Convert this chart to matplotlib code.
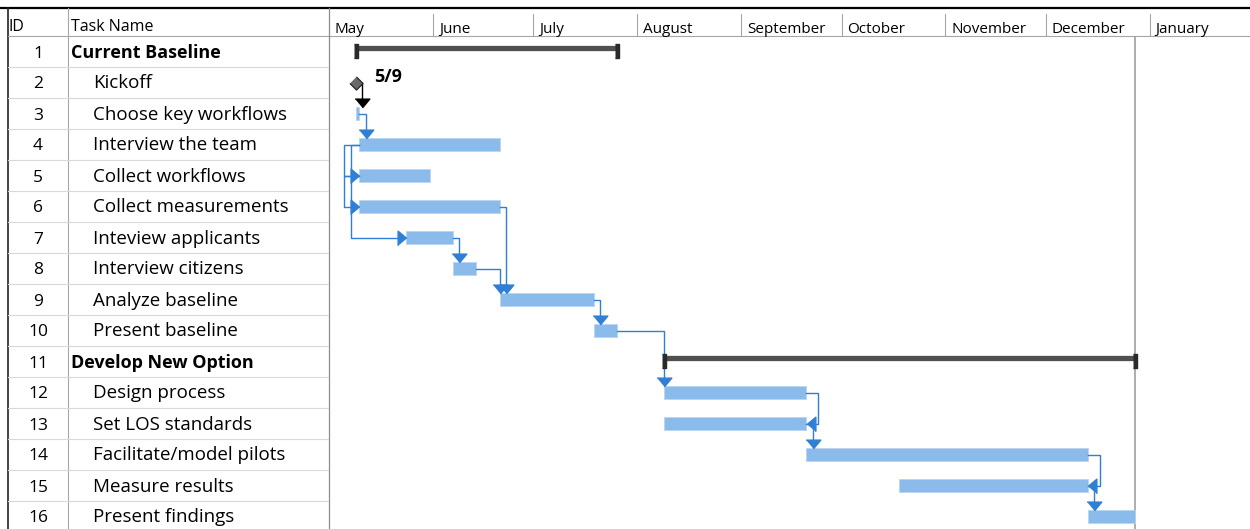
import matplotlib.pyplot as plt
from matplotlib.transforms import blended_transform_factory

plt.rcParams['font.family'] = ['Open Sans', 'DejaVu Sans']

# ---- data ----
ids = list(range(1, 17))
names = ["Current Baseline", "Kickoff", "Choose key workflows", "Interview the team",
         "Collect workflows", "Collect measurements", "Inteview applicants",
         "Interview citizens", "Analyze baseline", "Present baseline",
         "Develop New Option", "Design process", "Set LOS standards",
         "Facilitate/model pilots", "Measure results", "Present findings"]
is_summary = [True, False, False, False, False, False, False, False, False, False,
              True, False, False, False, False, False]
# start = days after May 1, duration in days (0 = milestone)
starts = [8, 8, 8, 9, 9, 9, 23, 37, 51, 79, 100, 100, 100, 142.5, 170, 226.5]
durations = [78, 0, 1, 42, 21, 42, 14, 7, 28, 7, 140.5, 42.5, 42.5, 84, 56.5, 14]
milestone_label = "5/9"
finish_day = 240.5

months = ["May", "June", "July", "August", "September", "October",
          "November", "December", "January"]
month_start = [0, 31, 61, 92, 123, 153, 184, 214, 245]

links = [(2, 3, "FS"), (3, 4, "FS"), (4, 5, "SS"), (5, 6, "SS"), (4, 7, "SS"),
         (6, 9, "FS"), (7, 8, "FS"), (8, 9, "FS"), (9, 10, "FS"), (10, 12, "FS"),
         (12, 13, "FF"), (13, 14, "FS"), (14, 15, "FF"), (15, 16, "FS")]

# ---- layout ----
W, H = 1250, 529
PX_DAY = 3.35      # pixels per day
ROW = 31           # pixels per row
HEAD = 36          # header bottom (px from top)
CHART_X = 329
dx = 1 / PX_DAY
dy = 1 / ROW
ymax = 16 + (H - (HEAD + ROW * 15.5)) / ROW

BAR = "#8BBBEB"
LINK = "#2F7FD6"
GRID = "#D9D9D9"

fig = plt.figure(figsize=(W / 100, H / 100), dpi=100)

frame = fig.add_axes([0, 0, 1, 1])
frame.set_xlim(0, W)
frame.set_ylim(H, 0)
frame.axis("off")

tab = fig.add_axes([0, 0, CHART_X / W, (H - HEAD) / H])
tab.set_xlim(0, CHART_X)
tab.set_ylim(ymax, 0.5)
tab.axis("off")

ax = fig.add_axes([CHART_X / W, 0, (W - CHART_X) / W, (H - HEAD) / H])
ax.set_xlim(0, (W - CHART_X) / PX_DAY)
ax.set_ylim(ymax, 0.5)
ax.axis("off")

# ---- header / frame ----
frame.plot([0, W], [8, 8], color="black", lw=1.6)
frame.plot([8, 8], [8, H], color="#222222", lw=1.2)
frame.plot([8, W], [HEAD, HEAD], color="#A6A6A6", lw=0.8)
frame.plot([68, 68], [8, H], color="#A6A6A6", lw=0.8)
frame.plot([CHART_X, CHART_X], [8, H], color="#8C8C8C", lw=0.9)
frame.text(9, 31, "ID", fontsize=11.5, va="baseline", ha="left")
frame.text(71, 31, "Task Name", fontsize=11.5, va="baseline", ha="left")

hdr = blended_transform_factory(ax.transData, frame.transData)
for m, d in zip(months, month_start):
    if d > 0:
        frame.plot([d, d], [14, HEAD], color="#A6A6A6", lw=0.8, transform=hdr)
    frame.text(d + 6 * dx, 33, m, fontsize=11, va="baseline", ha="left", transform=hdr)

# ---- table ----
for i, (n, s) in enumerate(zip(names, is_summary)):
    r = i + 1
    tab.plot([8, CHART_X], [r + 0.5, r + 0.5], color=GRID, lw=0.8)
    tab.text(38, r + 6 * dy, str(ids[i]), fontsize=12.5, ha="center", va="baseline")
    tab.text(71 if s else 93, r + 6 * dy, n, fontsize=13 if s else 13.5,
             ha="left", va="baseline", fontweight="bold" if s else "normal")

# ---- bars ----
hh = 6.5 * dy
for i in range(len(ids)):
    r = i + 1
    s, d = starts[i], durations[i]
    if is_summary[i]:
        ax.plot([s, s + d], [r - 3.5 * dy] * 2, color="#505050", lw=3.8,
                solid_capstyle="butt", zorder=3)
        cap = [(-0.3, -1), (0.3, -1), (0.3, 1), (-0.3, 1)]
        ax.plot([s, s + d], [r - 1 * dy] * 2, ls="none", marker=cap, ms=9.5,
                color="#2A2A2A", zorder=4)
    elif d == 0:
        ax.plot(s, r, marker=[(0, 1), (1, 0), (0, -1), (-1, 0)], ms=9.5,
                mfc="#6A6A6A", mec="#1A1A1A", mew=0.8, zorder=5)
        ax.text(s + 18 * dx, r + 0 * dy, milestone_label, fontsize=13,
                fontweight="bold", va="baseline", ha="left")
    else:
        ax.barh(r, d, left=s, height=2 * hh, color=BAR, edgecolor="#B9D5F3",
                lw=0.6, zorder=2)

ax.plot([finish_day, finish_day], [0.5, ymax], color="#A0A0A0", lw=1.2, zorder=1)

# ---- links ----
down = [(-1, 0.6), (1, 0.6), (0, -0.6)]
right = [(-0.6, -1), (-0.6, 1), (0.6, 0)]
left = [(0.6, -1), (0.6, 1), (-0.6, 0)]
AH = 4.5  # half arrow height in px
MS = 10.5

for p, q, kind in links:
    ps, pe = starts[p - 1], starts[p - 1] + durations[p - 1]
    qs, qe = starts[q - 1], starts[q - 1] + durations[q - 1]
    col = "black" if durations[p - 1] == 0 else LINK
    if kind == "FS":
        xv = max(pe + 6.5 * dx, qs)
        tip = q - hh
        ax.plot([pe, xv, xv], [p, p, tip - AH * dy], color=col, lw=1, zorder=3)
        ax.plot(xv, tip - AH * dy, marker=down, ms=MS, color=col, zorder=4)
    elif kind == "FF":
        xv = pe + 12 * dx
        ax.plot([pe, xv, xv, qe + AH * dx], [p, p, q, q], color=col, lw=1, zorder=3)
        ax.plot(qe + AH * dx, q, marker=left, ms=MS, color=col, zorder=4)
    else:  # SS
        off = 15 if qs == ps else 8
        xl = ps - off * dx
        ax.plot([ps, xl, xl, qs - AH * dx], [p, p, q, q], color=col, lw=1, zorder=3)
        ax.plot(qs - AH * dx, q, marker=right, ms=MS, color=col, zorder=4)

fig.savefig("out.png", dpi=100)
